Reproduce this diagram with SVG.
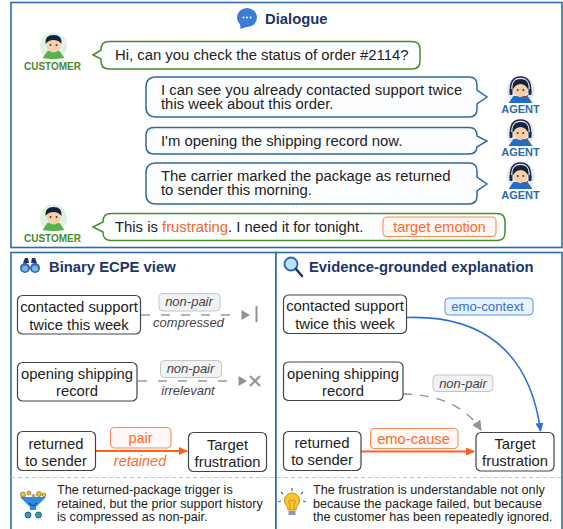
<svg xmlns="http://www.w3.org/2000/svg" xmlns:xlink="http://www.w3.org/1999/xlink" width="563" height="529" viewBox="0 0 563 529">
<style>
text{font-family:"Liberation Sans",Arial,sans-serif;fill:#222}
.panel{fill:#fff;stroke:#2f6aa8;stroke-width:1.6}
.title{font-weight:700;font-size:14.8px;fill:#1d3567}
.b{fill:#fdfeff;stroke-width:1.5}
.cb{stroke:#4a8a2c}
.ab{stroke:#2f6aa8}
.say{font-size:14.85px}
.node{fill:#fff;stroke:#444;stroke-width:1.2}
.nt{font-size:14.8px;text-anchor:middle}
.chip{fill:#f1f2f4;stroke:#c4c6ca;stroke-width:1}
.it{font-style:italic;font-size:13px;text-anchor:middle;fill:#444}
.o{fill:#ff6a2b}
.oc{fill:#fff8f4;stroke:#ff8a55;stroke-width:1.1}
.foot{font-size:12.6px}
.who{font-weight:700;font-size:10px;text-anchor:middle}
</style>
<defs>
<marker id="ao" markerWidth="10" markerHeight="10" refX="8" refY="4" orient="auto" markerUnits="userSpaceOnUse"><path d="M0 0L9 4L0 8z" fill="#ff5f1f"/></marker>
<marker id="ab" markerWidth="10" markerHeight="10" refX="8" refY="4" orient="auto" markerUnits="userSpaceOnUse"><path d="M0 0L9 4L0 8z" fill="#2f6fd6"/></marker>
<marker id="ag" markerWidth="12" markerHeight="12" refX="9" refY="5" orient="auto" markerUnits="userSpaceOnUse"><path d="M0 0L10 5L0 10z" fill="#8f9296"/></marker>
<symbol id="customer" overflow="visible">
<circle cx="0" cy="0" r="13.5" fill="#dff1df"/>
<path d="M-11 12L-6 5H6L11 12Q0 14-11 12z" fill="#57b44a"/>
<ellipse cx="0" cy="-1" rx="7" ry="7.5" fill="#f7cfa8"/>
<path d="M-8-2Q-9-11 0-11Q9-11 8-2Q5-6 0-6Q-5-6-8-2z" fill="#14233c"/>
<circle cx="-3" cy="-1" r=".9" fill="#333"/><circle cx="3" cy="-1" r=".9" fill="#333"/>
</symbol>
<symbol id="agent" overflow="visible">
<circle cx="0" cy="0" r="14" fill="#e6e8f0"/>
<path d="M-12 13L-7 6H7L12 13z" fill="#1f6fc4"/>
<ellipse cx="0" cy="0" rx="7" ry="7.2" fill="#f7cfa8"/>
<path d="M-8 0Q-9-11 0-11Q9-11 8 0Q5-6 0-6Q-5-6-8 0z" fill="#14233c"/>
<path d="M-10 2Q-11-13 0-13Q11-13 10 2" fill="none" stroke="#1d2b45" stroke-width="1.5"/>
<rect x="-11" y="-1" width="3" height="6" rx="1" fill="#1d2b45"/><rect x="8" y="-1" width="3" height="6" rx="1" fill="#1d2b45"/>
<circle cx="-2.8" cy="0" r=".9" fill="#333"/><circle cx="2.8" cy="0" r=".9" fill="#333"/>
<path d="M8 5Q5 8 1 7" fill="none" stroke="#c0392b" stroke-width="1"/>
</symbol>
</defs>
<rect width="563" height="529" fill="#fff"/>
<rect id="panel-dialogue" class="panel" x="11" y="2.500" width="551" height="245"/>
<rect id="panel-binary" class="panel" x="11" y="252.500" width="265" height="278"/>
<rect id="panel-evidence" class="panel" x="276" y="252.500" width="286" height="278"/>
<g id="dialogue-title">
<ellipse cx="247" cy="17.500" rx="10" ry="9.500" fill="#3a7bd5"/><path d="M240 23L240.500 29L249 26z" fill="#3a7bd5"/>
<circle cx="243.500" cy="17.500" r="1" fill="#fff"/><circle cx="247" cy="17.500" r="1" fill="#fff"/><circle cx="250.500" cy="17.500" r="1" fill="#fff"/>
<text class="title" x="265" y="24">Dialogue</text>
</g>
<g id="customer-1"><use xlink:href="#customer" href="#customer" x="53.500" y="46"/><text class="who" x="52.500" y="70" style="fill:#4a8a2c">CUSTOMER</text></g>
<g id="utterance-1"><path class="b cb" d="M109 41.500H412Q420 41.500 420 49.500V61Q420 69 412 69H109Q101 69 101 61V59L93 55L101 50V49.500Q101 41.500 109 41.500z"/><text class="say" x="115" y="60">Hi, can you check the status of order #2114?</text></g>
<g id="utterance-2"><path class="b ab" d="M156 77H469Q477 77 477 85V90L487 97L477 104V109Q477 117 469 117H156Q146 117 146 107V87Q146 77 156 77z"/><text class="say" x="161" y="95">I can see you already contacted support twice</text><text class="say" x="161" y="109">this week about this order.</text></g>
<g id="agent-1"><use xlink:href="#agent" href="#agent" x="520.500" y="90"/><text class="who" x="520.500" y="113" style="fill:#2f6aa8;font-size:11px">AGENT</text></g>
<g id="utterance-3"><path class="b ab" d="M154 127.500H469Q477 127.500 477 135.500V136L487 141L477 147V146Q477 154 469 154H154Q146 154 146 146V135.500Q146 127.500 154 127.500z"/><text class="say" x="161" y="146">I'm opening the shipping record now.</text></g>
<g id="agent-2"><use xlink:href="#agent" href="#agent" x="520.500" y="133"/><text class="who" x="520.500" y="156" style="fill:#2f6aa8;font-size:11px">AGENT</text></g>
<g id="utterance-4"><path class="b ab" d="M156 163H469Q477 163 477 171V177L487 184L477 191V196Q477 204 469 204H156Q146 204 146 194V173Q146 163 156 163z"/><text class="say" x="161" y="181">The carrier marked the package as returned</text><text class="say" x="161" y="195">to sender this morning.</text></g>
<g id="agent-3"><use xlink:href="#agent" href="#agent" x="520.500" y="176"/><text class="who" x="520.500" y="199" style="fill:#2f6aa8;font-size:11px">AGENT</text></g>
<g id="customer-2"><use xlink:href="#customer" href="#customer" x="53.500" y="218"/><text class="who" x="52.500" y="242" style="fill:#4a8a2c">CUSTOMER</text></g>
<g id="utterance-5"><path class="b cb" d="M111 213.500H497Q505 213.500 505 221.500V232.500Q505 240.500 497 240.500H111Q103 240.500 103 232.500V232L93 227L103 222V221.500Q103 213.500 111 213.500z"/><text class="say" x="115" y="232">This is <tspan style="fill:#f4662a">frustrating</tspan>. I need it for tonight.</text></g>
<g id="target-emotion"><rect class="oc" x="383" y="217" width="113" height="19.500" rx="4"/><text x="439.500" y="231.500" text-anchor="middle" class="o" style="font-size:14.500px">target emotion</text></g>

<g id="binary-title">
<circle cx="25" cy="268" r="5" fill="#2d6bb0"/><circle cx="35" cy="268" r="5" fill="#2d6bb0"/><path d="M23 263l2-5h3l1 5zM31 263l1-5h3l2 5z" fill="#1d3567"/><circle cx="25" cy="268.500" r="3" fill="#7fb2e5"/><circle cx="35" cy="268.500" r="3" fill="#7fb2e5"/>
<text class="title" x="49" y="272">Binary ECPE view</text></g>
<g id="evidence-title">
<circle cx="291" cy="264" r="6.500" fill="#bfe0fa" stroke="#2d6bb0" stroke-width="2"/><path d="M296 269L302 276" stroke="#1d3567" stroke-width="2.500" stroke-linecap="round"/>
<text class="title" x="309" y="272">Evidence-grounded explanation</text></g>

<g id="connectors">
<path d="M141 315H233" stroke="#999" stroke-width="1.300" stroke-dasharray="9 11" fill="none"/>
<path d="M241.500 310L250 315L241.500 320z" fill="#8f9296"/><path d="M256.500 306V322" stroke="#8f9296" stroke-width="2"/>
<path d="M138 381H232" stroke="#999" stroke-width="1.300" stroke-dasharray="9 11" fill="none"/>
<path d="M238.500 376L247 381L238.500 386z" fill="#8f9296"/><path d="M250 376L260 386M260 376L250 386" stroke="#8f9296" stroke-width="2"/>
<path d="M95 451H187" stroke="#ff5f1f" stroke-width="2.200" fill="none" marker-end="url(#ao)"/>
<path d="M407 317.500C480 315 530 350 540.500 431" stroke="#2f6fd6" stroke-width="1.600" fill="none" marker-end="url(#ab)"/>
<path d="M403 394C435 394 465 405 481 430" stroke="#8f9296" stroke-width="1.400" stroke-dasharray="9 8" fill="none" marker-end="url(#ag)"/>
<path d="M361 451.500H474" stroke="#ff5f1f" stroke-width="2.200" fill="none" marker-end="url(#ao)"/>
</g>

<g id="b-contacted"><rect class="node" x="17.500" y="295.500" width="123" height="38.500" rx="5"/><text class="nt" x="79" y="311.500">contacted support</text><text class="nt" x="79" y="329.500">twice this week</text></g>
<g id="b-opening"><rect class="node" x="17.500" y="362.500" width="119.500" height="38.500" rx="5"/><text class="nt" x="77" y="378.500">opening shipping</text><text class="nt" x="77" y="396">record</text></g>
<g id="b-returned"><rect class="node" x="17.500" y="431.500" width="78" height="39" rx="5"/><text class="nt" x="56" y="448.500">returned</text><text class="nt" x="56" y="466">to sender</text></g>
<g id="b-target"><rect class="node" x="188.500" y="432.500" width="78" height="39" rx="5"/><text class="nt" x="227.500" y="449.500">Target</text><text class="nt" x="227.500" y="467">frustration</text></g>
<g id="b-chip1"><rect class="chip" x="159" y="293.500" width="61" height="17.500" rx="4"/><text class="it" x="189" y="306">non-pair</text></g>
<text class="it" x="188.500" y="327">compressed</text>
<g id="b-chip2"><rect class="chip" x="160.500" y="360.500" width="61" height="17" rx="4"/><text class="it" x="190.500" y="373">non-pair</text></g>
<text class="it" x="188" y="395">irrelevant</text>
<g id="b-pair"><rect class="oc" x="110.500" y="427.500" width="60.500" height="20.500" rx="4"/><text x="140.500" y="443" text-anchor="middle" class="o" style="font-size:14.500px">pair</text></g>
<text x="140" y="466" text-anchor="middle" class="o" style="font-size:14.500px;font-style:italic">retained</text>

<g id="e-contacted"><rect class="node" x="283.500" y="295" width="123" height="38.500" rx="5"/><text class="nt" x="345" y="311">contacted support</text><text class="nt" x="345" y="329">twice this week</text></g>
<g id="e-opening"><rect class="node" x="283.500" y="362" width="119.500" height="38.500" rx="5"/><text class="nt" x="343" y="378.500">opening shipping</text><text class="nt" x="343" y="396">record</text></g>
<g id="e-returned"><rect class="node" x="283.500" y="431.500" width="77.500" height="39" rx="5"/><text class="nt" x="322" y="447.500">returned</text><text class="nt" x="322" y="465">to sender</text></g>
<g id="e-target"><rect class="node" x="476" y="432.500" width="78" height="38.500" rx="5"/><text class="nt" x="515" y="448.500">Target</text><text class="nt" x="515" y="466">frustration</text></g>
<g id="e-context"><rect x="445" y="298" width="88" height="17" rx="4" fill="#eaf2fd" stroke="#5b93e6" stroke-width="1"/><text x="487.500" y="310.500" text-anchor="middle" style="font-size:13.200px;fill:#2f6fd6">emo-context</text></g>
<g id="e-chip"><rect class="chip" x="433" y="375" width="60" height="16.500" rx="4"/><text class="it" x="463" y="387.500">non-pair</text></g>
<g id="e-cause"><rect class="oc" x="370.500" y="428.500" width="87.500" height="20" rx="4"/><text x="413.500" y="443.500" text-anchor="middle" class="o" style="font-size:14.700px">emo-cause</text></g>

<path id="separator" d="M11 477.500H562" stroke="#a9cbe8" stroke-width="1" stroke-dasharray="4 3" fill="none"/>
<g id="b-note">
<path d="M20 497H46L36 507V510H30V507z" fill="#2b8be0"/><path d="M29 503L33 506L37 503" stroke="#1d3567" fill="none"/>
<g fill="#f5c518" stroke="#555" stroke-width=".6"><circle cx="23" cy="494.500" r="2.500"/><circle cx="29" cy="493" r="2"/><circle cx="33.500" cy="496" r="1.500"/><circle cx="39" cy="494" r="2.500"/><circle cx="44" cy="495" r="1.800"/></g>
<g fill="#2ea3b8" stroke="#1d3567" stroke-width=".7"><circle cx="28" cy="515" r="3"/><circle cx="38.500" cy="515" r="3"/></g>
<text class="foot" x="57" y="494">The returned-package trigger is</text><text class="foot" x="57" y="508">retained, but the prior support history</text><text class="foot" x="57" y="521">is compressed as non-pair.</text></g>
<g id="e-note">
<path d="M286 505a7.500 7.500 0 1 1 12 0q-2 2-2 5h-8q0-3-2-5z" fill="#fbc72e" stroke="#c98a12" stroke-width="1"/><path d="M290 510v-5l-1.500-4q1.500-2 3.500 0q2-2 3.500 0l-1.500 4v5" fill="none" stroke="#c98a12" stroke-width=".9"/>
<rect x="288.500" y="511" width="7" height="4" fill="#8a9bb0"/>
<path d="M292 488v3M281 492l2 2M303 492l-2 2M278 502l3-1M306 502l-3-1" stroke="#3c6aa0" stroke-width="1.200"/>
<text class="foot" x="313" y="494">The frustration is understandable not only</text><text class="foot" x="313" y="508">because the package failed, but because</text><text class="foot" x="313" y="521">the customer has been repeatedly ignored.</text></g>
</svg>
